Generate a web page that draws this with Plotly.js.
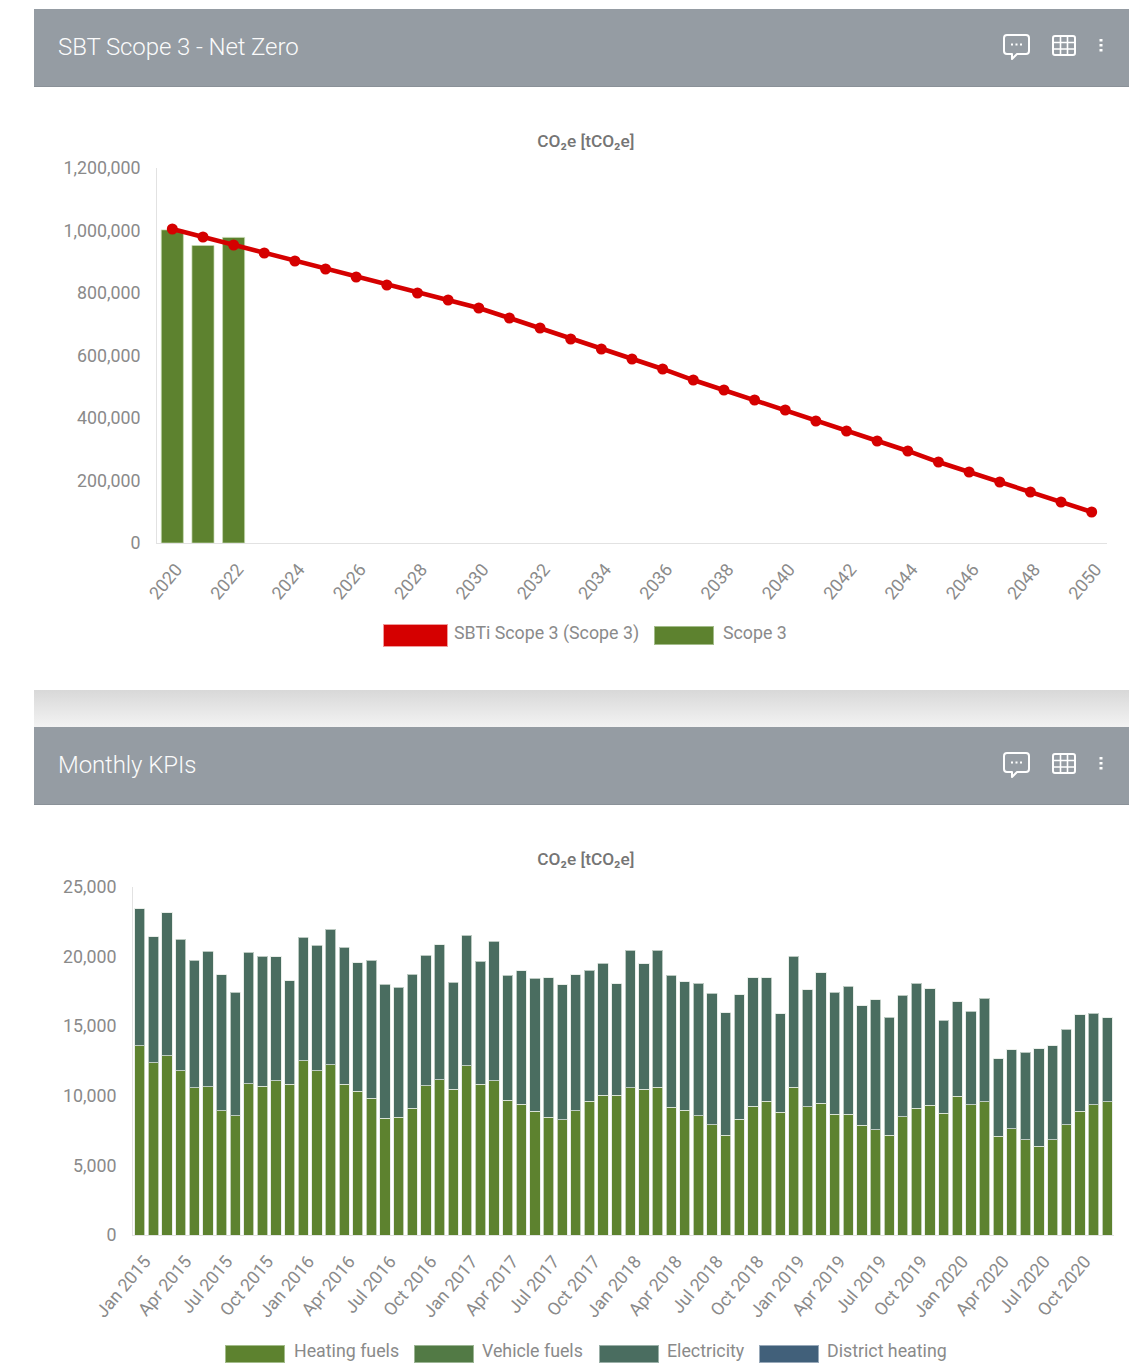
<!DOCTYPE html>
<html>
<head>
<meta charset="utf-8">
<script src="https://cdn.plot.ly/plotly-3.0.1.min.js"></script>
<style>
html,body{margin:0;padding:0;background:#fff;width:1145px;height:1364px;overflow:hidden;font-family:Roboto,sans-serif}
.abs{position:absolute}
.hdr{position:absolute;left:34px;width:1095px;height:78px;background:#959ca3;border-bottom:1px solid #8a9198;box-sizing:border-box}
.hdr span{position:absolute;left:24px;top:22px;font-size:24px;line-height:32px;font-weight:300;color:#fbfbfb;letter-spacing:-.1px}
.hdr svg{position:absolute;left:966px;top:22px}
.sw{position:absolute;box-sizing:border-box}
.lt{position:absolute;font-size:17.8px;line-height:20px;color:#8a8a8a;white-space:nowrap}
</style>
</head>
<body>
<div class="hdr" style="top:9px"><span>SBT Scope 3 - Net Zero</span>
<svg width="110" height="32" fill="none" stroke="#fff" stroke-width="2"><path d="M7 4H26a3 3 0 0 1 3 3V20a3 3 0 0 1-3 3H17L12 28V23H7a3 3 0 0 1-3-3V7a3 3 0 0 1 3-3Z" stroke-linejoin="round"/><path d="M11 13.5h2M15.5 13.5h2M20 13.5h2"/><rect x="53" y="5" width="22" height="19" rx="2"/><path d="M53 11.5H75M53 18H75M60.5 5V24M67.5 5V24" stroke-width="1.6"/><path d="M101 9v2.5M101 14v2.5M101 19v2.5" stroke-width="3" transform="translate(0,-1)"/></svg></div>
<div id="chart1" class="abs" style="left:34px;top:90px;width:1095px;height:600px"></div>
<div class="abs" style="left:34px;top:690px;width:1095px;height:37px;background:linear-gradient(#d8d8d8,#f3f3f3)"></div>
<div class="hdr" style="top:727px"><span>Monthly KPIs</span>
<svg width="110" height="32" fill="none" stroke="#fff" stroke-width="2"><path d="M7 4H26a3 3 0 0 1 3 3V20a3 3 0 0 1-3 3H17L12 28V23H7a3 3 0 0 1-3-3V7a3 3 0 0 1 3-3Z" stroke-linejoin="round"/><path d="M11 13.5h2M15.5 13.5h2M20 13.5h2"/><rect x="53" y="5" width="22" height="19" rx="2"/><path d="M53 11.5H75M53 18H75M60.5 5V24M67.5 5V24" stroke-width="1.6"/><path d="M101 9v2.5M101 14v2.5M101 19v2.5" stroke-width="3" transform="translate(0,-1)"/></svg></div>
<div id="chart2" class="abs" style="left:34px;top:808px;width:1095px;height:556px"></div>

<div class="sw" style="left:383px;top:624px;width:65px;height:23px;background:#d50000;border:1px solid #f09a9a"></div>
<div class="lt" style="left:454px;top:623px">SBTi Scope 3 (Scope 3)</div>
<div class="sw" style="left:654px;top:626px;width:60px;height:19px;background:#5d822f;border:1px solid #a3bc8a"></div>
<div class="lt" style="left:723px;top:623px">Scope 3</div>

<div class="sw" style="left:225px;top:1345px;width:60px;height:18px;background:#5d822f;border:1px solid #a3bc8a"></div>
<div class="lt" style="left:294px;top:1341px">Heating fuels</div>
<div class="sw" style="left:414px;top:1345px;width:60px;height:18px;background:#527a45;border:1px solid #9cb594"></div>
<div class="lt" style="left:482px;top:1341px">Vehicle fuels</div>
<div class="sw" style="left:599px;top:1345px;width:60px;height:18px;background:#4a6d60;border:1px solid #9bb0a8"></div>
<div class="lt" style="left:667px;top:1341px">Electricity</div>
<div class="sw" style="left:759px;top:1345px;width:60px;height:18px;background:#41607a;border:1px solid #98a9b9"></div>
<div class="lt" style="left:827px;top:1341px">District heating</div>

<script>
const years = ['2020','2021','2022','2023','2024','2025','2026','2027','2028','2029','2030','2031','2032','2033','2034','2035','2036','2037','2038','2039','2040','2041','2042','2043','2044','2045','2046','2047','2048','2049','2050'];
const yearTicks = ['2020','2022','2024','2026','2028','2030','2032','2034','2036','2038','2040','2042','2044','2046','2048','2050'];
const sbtiScope3 = [1004800,979200,953600,928000,902400,876800,851200,825600,800000,777600,752000,720000,688000,652800,620800,588800,556800,521600,489600,457600,425600,390400,358400,326400,294400,259200,227200,195200,163200,131200,99200];
const scope3Years = ['2020','2021','2022'];
const scope3 = [1002000,952000,978000];

const months = ['Jan 2015','Feb 2015','Mar 2015','Apr 2015','May 2015','Jun 2015','Jul 2015','Aug 2015','Sep 2015','Oct 2015','Nov 2015','Dec 2015',
'Jan 2016','Feb 2016','Mar 2016','Apr 2016','May 2016','Jun 2016','Jul 2016','Aug 2016','Sep 2016','Oct 2016','Nov 2016','Dec 2016',
'Jan 2017','Feb 2017','Mar 2017','Apr 2017','May 2017','Jun 2017','Jul 2017','Aug 2017','Sep 2017','Oct 2017','Nov 2017','Dec 2017',
'Jan 2018','Feb 2018','Mar 2018','Apr 2018','May 2018','Jun 2018','Jul 2018','Aug 2018','Sep 2018','Oct 2018','Nov 2018','Dec 2018',
'Jan 2019','Feb 2019','Mar 2019','Apr 2019','May 2019','Jun 2019','Jul 2019','Aug 2019','Sep 2019','Oct 2019','Nov 2019','Dec 2019',
'Jan 2020','Feb 2020','Mar 2020','Apr 2020','May 2020','Jun 2020','Jul 2020','Aug 2020','Sep 2020','Oct 2020','Nov 2020','Dec 2020'];
const monthTicks = ['Jan 2015','Apr 2015','Jul 2015','Oct 2015','Jan 2016','Apr 2016','Jul 2016','Oct 2016','Jan 2017','Apr 2017','Jul 2017','Oct 2017','Jan 2018','Apr 2018','Jul 2018','Oct 2018','Jan 2019','Apr 2019','Jul 2019','Oct 2019','Jan 2020','Apr 2020','Jul 2020','Oct 2020'];
const heatingFuels = [13608,12384,12864,11784,10584,10656,8928,8568,10872,10680,11064,10824,
12504,11784,12240,10848,10320,9840,8400,8472,9120,10728,11136,10488,
12144,10848,11064,9696,9384,8880,8448,8280,8928,9624,10032,10056,
10584,10464,10632,9192,8952,8568,7920,7176,8304,9264,9624,8832,
10632,9216,9480,8688,8664,7896,7560,7176,8496,9120,9312,8760,
9960,9360,9576,7104,7632,6840,6360,6840,7920,8904,9360,9576];
const vehicleFuels = [0,0,0,0,0,0,0,0,0,0,0,0,0,0,0,0,0,0,0,0,0,0,0,0,0,0,0,0,0,0,0,0,0,0,0,0,0,0,0,0,0,0,0,0,0,0,0,0,0,0,0,0,0,0,0,0,0,0,0,0,0,0,0,0,0,0,0,0,0,0,0,0];
const electricity = [9840,9048,10296,9480,9168,9720,9768,8856,9432,9360,8928,7440,
8904,9024,9720,9840,9240,9912,9600,9312,9600,9384,9720,7656,
9408,8832,10032,8976,9600,9552,10032,9696,9768,9384,9480,7992,
9864,9024,9840,9480,9240,9528,9456,8784,8952,9216,8856,7080,
9408,8400,9360,8736,9192,8568,9336,8472,8712,8976,8376,6672,
6792,6720,7416,5544,5664,6288,7032,6768,6864,6936,6576,6024];
const districtHeating = [0,0,0,0,0,0,0,0,0,0,0,0,0,0,0,0,0,0,0,0,0,0,0,0,0,0,0,0,0,0,0,0,0,0,0,0,0,0,0,0,0,0,0,0,0,0,0,0,0,0,0,0,0,0,0,0,0,0,0,0,0,0,0,0,0,0,0,0,0,0,0,0];

const titleText = 'CO₂e [tCO₂e]';
const grey = '#8a8a8a', axisLine = '#e2e2e2';
const tickFont = {family:'Roboto, sans-serif', size:17.8, color:grey};
const titleFont = {family:'Roboto, sans-serif', size:17.3, color:'#757575', weight:500};
const axisBase = {showgrid:false, zeroline:false, showline:true, linecolor:axisLine, linewidth:1, ticks:'', tickfont:tickFont};

Plotly.newPlot('chart1', [
  {type:'bar', x:scope3Years, y:scope3, name:'Scope 3', width:0.72,
   marker:{color:'#5d822f', line:{color:'rgba(200,220,180,.7)', width:1}}},
  {type:'scatter', mode:'lines+markers', x:years, y:sbtiScope3, name:'SBTi Scope 3 (Scope 3)',
   line:{color:'#d50000', width:4.5}, marker:{color:'#d50000', size:11}}
], {
  width:1095, height:600, showlegend:false, paper_bgcolor:'#fff', plot_bgcolor:'#fff',
  margin:{l:123, r:22, t:78, b:147},
  title:{text:titleText, font:titleFont, x:0.504, xanchor:'center', xref:'container', y:0.915, yanchor:'middle', yref:'container'},
  xaxis:Object.assign({}, axisBase, {type:'category', categoryorder:'array', categoryarray:years, range:[-0.5,30.5], tickmode:'array', tickvals:yearTicks, ticktext:yearTicks, tickangle:-50, ticklabelstandoff:8, ticklabelshift:4}),
  yaxis:Object.assign({}, axisBase, {range:[0,1200000], tickmode:'array', tickvals:[0,200000,400000,600000,800000,1000000,1200000], ticktext:['0','200,000','400,000','600,000','800,000','1,000,000','1,200,000'], ticklabelstandoff:12})
}, {displayModeBar:false, staticPlot:true});

const barLine = {color:'rgba(225,232,225,.75)', width:1};
Plotly.newPlot('chart2', [
  {type:'bar', x:months, y:heatingFuels, name:'Heating fuels', marker:{color:'#5d822f', line:barLine}},
  {type:'bar', x:months, y:vehicleFuels, name:'Vehicle fuels', marker:{color:'#527a45', line:{width:0}}},
  {type:'bar', x:months, y:electricity, name:'Electricity', marker:{color:'#4a6d60', line:barLine}},
  {type:'bar', x:months, y:districtHeating, name:'District heating', marker:{color:'#41607a', line:{width:0}}}
], {
  width:1095, height:556, showlegend:false, barmode:'stack', bargap:0.24, paper_bgcolor:'#fff', plot_bgcolor:'#fff',
  margin:{l:99, r:14.5, t:79, b:129},
  title:{text:titleText, font:titleFont, x:0.504, xanchor:'center', xref:'container', y:0.908, yanchor:'middle', yref:'container'},
  xaxis:Object.assign({}, axisBase, {type:'category', categoryorder:'array', categoryarray:months, range:[-0.5,71.5], tickmode:'array', tickvals:monthTicks, ticktext:monthTicks, tickangle:-50, ticklabelstandoff:8, ticklabelshift:5}),
  yaxis:Object.assign({}, axisBase, {range:[0,25000], tickmode:'array', tickvals:[0,5000,10000,15000,20000,25000], ticktext:['0','5,000','10,000','15,000','20,000','25,000'], ticklabelstandoff:12})
}, {displayModeBar:false, staticPlot:true});
</script>
</body>
</html>
